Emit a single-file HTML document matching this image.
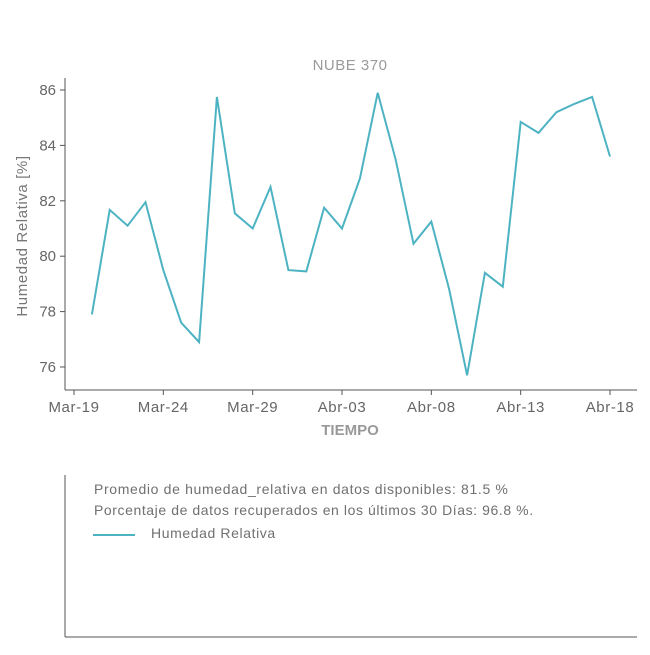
<!DOCTYPE html>
<html><head><meta charset="utf-8"><style>
body{margin:0;background:#fff;font-family:"Liberation Sans",sans-serif;}
svg text{font-family:"Liberation Sans",sans-serif;}
</style></head><body>
<svg width="650" height="650" viewBox="0 0 650 650" xmlns="http://www.w3.org/2000/svg">
</svg>
<script>
const days = ["03-20","03-21","03-22","03-23","03-24","03-25","03-26","03-27","03-28","03-29","03-30","03-31","04-01","04-02","04-03","04-04","04-05","04-06","04-07","04-08","04-09","04-10","04-11","04-12","04-13","04-14","04-15","04-16","04-17","04-18"];
const humidity = [77.9,81.67,81.1,81.95,79.5,77.6,76.9,85.75,81.55,81.0,82.5,79.5,79.45,81.75,81.0,82.8,85.9,83.5,80.45,81.25,78.8,75.7,79.4,78.9,84.85,84.45,85.2,85.5,85.75,83.6];
const xTickLabels = ["Mar-19","Mar-24","Mar-29","Abr-03","Abr-08","Abr-13","Abr-18"];
const xTickDays = ["03-19","03-24","03-29","04-03","04-08","04-13","04-18"];
const yTicks = [76,78,80,82,84,86];

const NS="http://www.w3.org/2000/svg";
const svg=document.querySelector('svg');
function dayIndex(s){const [m,d]=s.split('-').map(Number);return (m===3?d:31+d)-19;}
const x0=74, pxPerDay=(610-74)/30;
function xs(s){return x0+dayIndex(s)*pxPerDay;}
function ys(v){return 367-(v-76)*(367-90)/10;}
function mk(tag,attrs,text){const e=document.createElementNS(NS,tag);for(const k in attrs)e.setAttribute(k,attrs[k]);if(text!==undefined)e.textContent=text;svg.appendChild(e);return e;}

let e;
e=mk('text',{x:350,y:70,'text-anchor':'middle','font-size':15,'letter-spacing':0.5,fill:'#9a9a9a'},'NUBE 370');


e=mk('line',{x1:65,y1:78,x2:65,y2:390,stroke:'#555','stroke-width':1});


e=mk('line',{x1:65,y1:390,x2:637,y2:390,stroke:'#555','stroke-width':1});


yTicks.forEach(v=>{
  const y=ys(v);
  let t=mk('line',{x1:60,y1:y,x2:65,y2:y,stroke:'#555'});
  
  
  t=mk('text',{x:56,y:y+5,'text-anchor':'end','font-size':15,fill:'#666'},String(v));
  
  
});
xTickDays.forEach((d,i)=>{
  const x=xs(d);
  let t=mk('line',{x1:x,y1:390,x2:x,y2:395,stroke:'#555'});
  
  
  t=mk('text',{x:x,y:412,'text-anchor':'middle','font-size':15,'letter-spacing':0.6,fill:'#666'},xTickLabels[i]);
  
  
});
e=mk('text',{x:350,y:435,'text-anchor':'middle','font-size':15,'font-weight':'bold',fill:'#999'},'TIEMPO');


e=mk('text',{x:27,y:236,'text-anchor':'middle','font-size':15,'letter-spacing':0.6,fill:'#777',transform:'rotate(-90 27 236)'},'Humedad Relativa [%]');


const pts=days.map((d,i)=>xs(d).toFixed(1)+','+ys(humidity[i]).toFixed(1)).join(' ');
e=mk('polyline',{points:pts,fill:'none',stroke:'#4db3c2','stroke-width':2});



e=mk('line',{x1:65,y1:475,x2:65,y2:637,stroke:'#555'});


e=mk('line',{x1:65,y1:637,x2:637,y2:637,stroke:'#555'});


e=mk('text',{x:94,y:494,'font-size':14,'letter-spacing':0.65,fill:'#707070'},'Promedio de humedad_relativa en datos disponibles: 81.5 %');


e=mk('text',{x:94,y:515,'font-size':14,'letter-spacing':0.58,fill:'#707070'},'Porcentaje de datos recuperados en los últimos 30 Días: 96.8 %.');


e=mk('line',{x1:93,y1:535,x2:135,y2:535,stroke:'#4db3c2','stroke-width':2});


e=mk('text',{x:151,y:538,'font-size':14,'letter-spacing':0.6,fill:'#707070'},'Humedad Relativa');


</script>
</body></html>
